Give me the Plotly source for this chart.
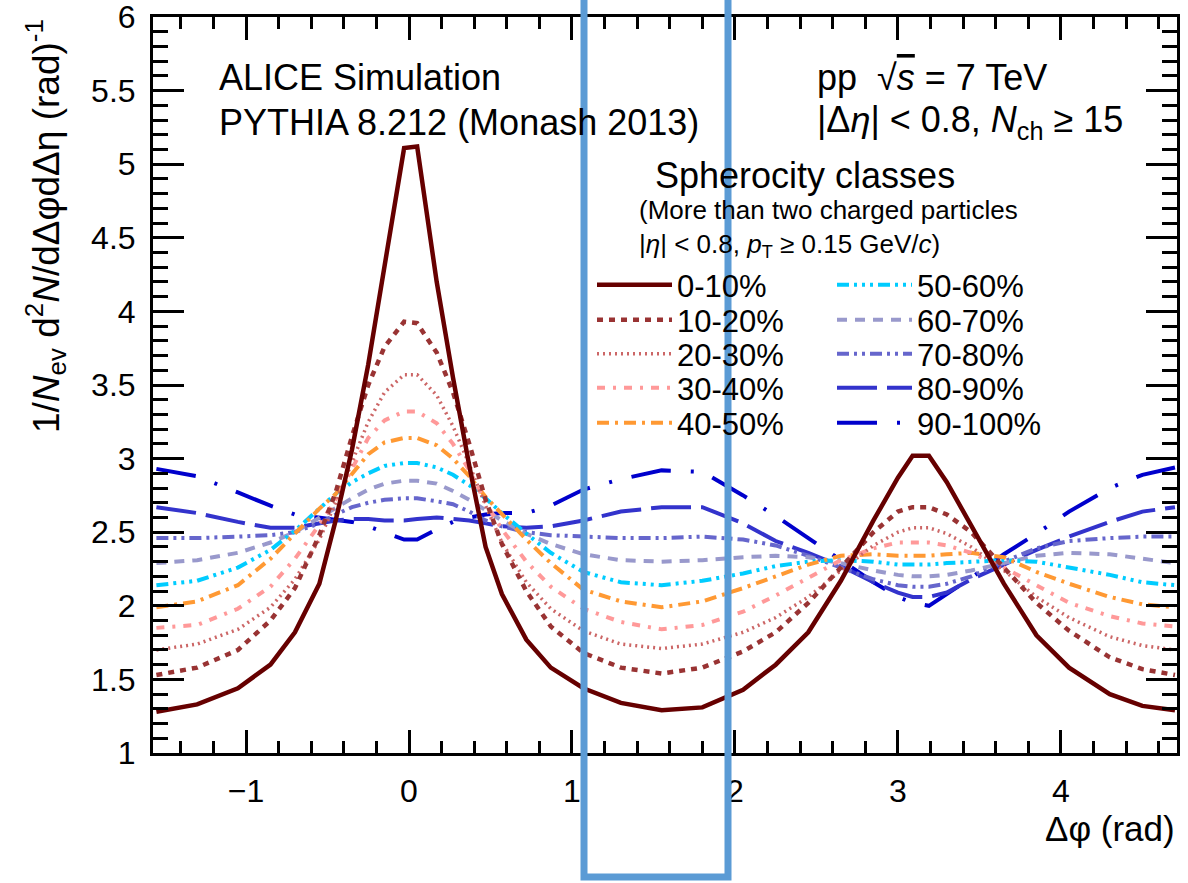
import math
import plotly.graph_objects as go

# Δφ sampling points (rad)
dphi = [-1.55, -1.3, -1.05, -0.85, -0.7, -0.55, -0.45, -0.35, -0.25, -0.15, -0.03, 0.05,
        0.17, 0.27, 0.37, 0.47, 0.57, 0.72, 0.87, 1.07, 1.3, 1.55, 1.8, 2.05, 2.25, 2.45,
        2.65, 2.85, 3.0, 3.09, 3.19, 3.3, 3.45, 3.65, 3.85, 4.05, 4.3, 4.5, 4.7]

# Per-trigger pair yields for each spherocity class
s_0_10 = [1.28, 1.33, 1.44, 1.60, 1.82, 2.15, 2.58, 3.06, 3.64, 4.30, 5.11, 5.12,
          4.20, 3.55, 2.95, 2.40, 2.08, 1.77, 1.58, 1.44, 1.34, 1.29, 1.31, 1.43, 1.60, 1.82,
          2.17, 2.58, 2.87, 3.02, 3.02, 2.84, 2.55, 2.15, 1.80, 1.58, 1.40, 1.32, 1.29]
s_10_20 = [1.53, 1.58, 1.70, 1.90, 2.12, 2.48, 2.77, 3.15, 3.50, 3.76, 3.93, 3.92,
           3.72, 3.45, 3.10, 2.72, 2.42, 2.10, 1.86, 1.68, 1.58, 1.54, 1.58, 1.69, 1.82, 2.02,
           2.26, 2.50, 2.64, 2.67, 2.67, 2.62, 2.50, 2.26, 2.02, 1.83, 1.65, 1.57, 1.53]
s_20_30 = [1.70, 1.74, 1.84, 1.99, 2.18, 2.45, 2.70, 2.98, 3.25, 3.45, 3.57, 3.57,
           3.43, 3.22, 2.96, 2.68, 2.43, 2.16, 1.98, 1.83, 1.74, 1.71, 1.74, 1.82, 1.92, 2.06,
           2.24, 2.41, 2.50, 2.53, 2.53, 2.49, 2.40, 2.24, 2.06, 1.92, 1.79, 1.73, 1.70]
s_30_40 = [1.85, 1.87, 1.98, 2.13, 2.32, 2.55, 2.72, 2.93, 3.14, 3.26, 3.32, 3.32,
           3.24, 3.10, 2.92, 2.70, 2.52, 2.30, 2.13, 1.98, 1.89, 1.84, 1.87, 1.96, 2.07, 2.19,
           2.31, 2.39, 2.43, 2.43, 2.43, 2.41, 2.36, 2.26, 2.14, 2.02, 1.93, 1.88, 1.86]
s_40_50 = [1.99, 2.03, 2.14, 2.32, 2.49, 2.66, 2.76, 2.90, 3.03, 3.11, 3.14, 3.14,
           3.09, 3.00, 2.88, 2.74, 2.62, 2.45, 2.29, 2.11, 2.03, 1.99, 2.03, 2.12, 2.20, 2.28,
           2.34, 2.35, 2.34, 2.34, 2.34, 2.35, 2.36, 2.33, 2.23, 2.15, 2.06, 2.01, 1.99]
s_50_60 = [2.14, 2.17, 2.26, 2.38, 2.51, 2.66, 2.76, 2.84, 2.90, 2.95, 2.97, 2.97,
           2.94, 2.89, 2.82, 2.73, 2.63, 2.49, 2.36, 2.23, 2.16, 2.14, 2.17, 2.22, 2.27, 2.30,
           2.31, 2.30, 2.28, 2.28, 2.28, 2.29, 2.30, 2.31, 2.30, 2.26, 2.21, 2.16, 2.14]
s_60_70 = [2.29, 2.31, 2.36, 2.43, 2.50, 2.60, 2.67, 2.73, 2.79, 2.83, 2.85, 2.85,
           2.83, 2.78, 2.72, 2.65, 2.58, 2.49, 2.42, 2.35, 2.31, 2.30, 2.31, 2.33, 2.34, 2.33,
           2.29, 2.24, 2.21, 2.20, 2.20, 2.21, 2.24, 2.29, 2.34, 2.36, 2.35, 2.32, 2.29]
s_70_80 = [2.46, 2.46, 2.47, 2.48, 2.50, 2.56, 2.62, 2.67, 2.70, 2.72, 2.73, 2.73,
           2.71, 2.69, 2.64, 2.58, 2.54, 2.50, 2.48, 2.47, 2.46, 2.46, 2.47, 2.45, 2.41, 2.34,
           2.26, 2.18, 2.14, 2.13, 2.13, 2.15, 2.20, 2.30, 2.39, 2.44, 2.46, 2.47, 2.47]
s_80_90 = [2.67, 2.63, 2.57, 2.53, 2.53, 2.56, 2.58, 2.59, 2.59, 2.58, 2.58, 2.59,
           2.60, 2.59, 2.58, 2.56, 2.54, 2.53, 2.54, 2.58, 2.64, 2.67, 2.67, 2.56, 2.44, 2.36,
           2.27, 2.16, 2.09, 2.06, 2.06, 2.09, 2.18, 2.28, 2.38, 2.47, 2.57, 2.64, 2.67]
s_90_100 = [2.93, 2.88, 2.77, 2.68, 2.62, 2.60, 2.59, 2.57, 2.54, 2.50, 2.45, 2.45,
            2.52, 2.57, 2.60, 2.62, 2.63, 2.63, 2.68, 2.79, 2.86, 2.92, 2.91, 2.75, 2.61, 2.46,
            2.31, 2.16, 2.06, 2.02, 2.00, 2.08, 2.19, 2.35, 2.49, 2.64, 2.80, 2.89, 2.94]

class_labels = ["0-10%", "10-20%", "20-30%", "30-40%", "40-50%",
                "50-60%", "60-70%", "70-80%", "80-90%", "90-100%"]
class_values = [s_0_10, s_10_20, s_20_30, s_30_40, s_40_50,
                s_50_60, s_60_70, s_70_80, s_80_90, s_90_100]

line_colors = ["#660000", "#993333", "#cc6666", "#ff9999", "#ff9933",
               "#00ccff", "#9999cc", "#6666cc", "#3333cc", "#0000cc"]
line_dashes = ["solid", "6px,6px", "2px,4px", "8px,8px,3px,8px", "12px,6px,3px,6px",
               "12px,5px,3px,5px,3px,5px,3px,5px", "10px,8px",
               "12px,5px,3px,5px,3px,5px", "40px,10px", "40px,20px,3px,20px"]
line_widths = [4.5, 4.5, 3.5, 4, 4, 4, 4, 4, 4, 4]

FONT = "Liberation Sans, Arial, Helvetica, sans-serif"

W, H = 1188, 883
ML, MR, MT, MB = 153, 11, 17, 130
PW, PH = W - ML - MR, H - MT - MB


def px(xpix):
    return (xpix - ML) / PW


def py(ypix):
    return (H - MB - ypix) / PH


# legend layout: two columns of five rows, one legend box per entry
legend_cols = [592, 832]
legend_rows = [285, 320, 354, 388, 423]

fig = go.Figure()
# highest classes first so the jet-like classes sit on top
for i in reversed(range(len(class_labels))):
    fig.add_trace(go.Scatter(
        x=dphi, y=class_values[i], mode="lines", name=class_labels[i],
        line=dict(color=line_colors[i], dash=line_dashes[i], width=line_widths[i]),
        legend="legend" if i == 0 else f"legend{i + 1}",
        hoverinfo="skip",
    ))

legends = {}
for i in range(len(class_labels)):
    key = "legend" if i == 0 else f"legend{i + 1}"
    legends[key] = dict(
        x=px(legend_cols[i // 5]), y=py(legend_rows[i % 5]),
        xanchor="left", yanchor="middle",
        font=dict(family=FONT, size=31, color="black"),
        bgcolor="rgba(0,0,0,0)", borderwidth=0, itemwidth=75,
    )

axis_common = dict(
    showline=True, linecolor="black", linewidth=3, mirror="ticks",
    ticks="inside", tickcolor="black", tickwidth=2.5,
    showgrid=False, zeroline=False, ticklabeloverflow="allow", automargin=False,
    tickfont=dict(family=FONT, size=32, color="black"),
)

fig.update_xaxes(
    range=[-math.pi / 2, 3 * math.pi / 2], tick0=0, dtick=1, ticklen=23,
    minor=dict(ticks="inside", dtick=0.2, tick0=0, ticklen=12, tickwidth=2.5, tickcolor="black"),
    ticklabelstandoff=8,
    **axis_common,
)
fig.update_yaxes(
    range=[1, 6], tick0=1, dtick=0.5, ticklen=31,
    minor=dict(ticks="inside", dtick=0.1, tick0=1, ticklen=15, tickwidth=2.5, tickcolor="black"),
    ticklabelstandoff=8,
    **axis_common,
)

annotations = [
    dict(text="ALICE Simulation", x=px(217), y=py(78), xanchor="left", yanchor="middle",
         font=dict(size=36)),
    dict(text="PYTHIA 8.212 (Monash 2013)", x=px(217), y=py(122), xanchor="left",
         yanchor="middle", font=dict(size=36)),
    dict(text="pp  √<span style='text-decoration:overline'><i>s</i></span> = 7 TeV",
         x=px(815), y=py(78), xanchor="left", yanchor="middle", font=dict(size=36)),
    dict(text="|Δ<i>η</i>| < 0.8, <i>N</i><sub>ch</sub> ≥ 15",
         x=px(815), y=py(122), xanchor="left", yanchor="middle", font=dict(size=36)),
    dict(text="Spherocity classes", x=px(653), y=py(175), xanchor="left", yanchor="middle",
         font=dict(size=36)),
    dict(text="(More than two charged particles<br>"
              "|<i>η</i>| < 0.8, <i>p</i><sub>T</sub> ≥ 0.15 GeV/<i>c</i>)",
         x=px(637), y=py(229), xanchor="left", yanchor="middle", align="left",
         font=dict(size=26)),
    dict(text="Δφ (rad)", x=1.0, y=py(829), xanchor="right", yanchor="middle",
         font=dict(size=35)),
    dict(text="1/<i>N</i><sub>ev</sub> d<sup>2</sup><i>N</i>/dΔφdΔη (rad)<sup>-1</sup>",
         x=px(45), y=1.0, xanchor="center", yanchor="top", textangle=-90,
         font=dict(size=37)),
]
for a in annotations:
    a.update(xref="paper", yref="paper", showarrow=False)
    a["font"].update(family=FONT, color="black")

fig.update_layout(
    width=W, height=H,
    margin=dict(l=ML, r=MR, t=MT, b=MB, pad=0, autoexpand=False),
    paper_bgcolor="white", plot_bgcolor="white",
    font=dict(family=FONT, color="black"),
    showlegend=True,
    annotations=annotations,
    shapes=[dict(type="rect", xref="paper", yref="paper",
                 x0=px(584), x1=px(728), y0=py(877), y1=py(-10),
                 line=dict(color="#5b9bd5", width=7), fillcolor="rgba(0,0,0,0)",
                 layer="above")],
    **legends,
)

fig.write_html("out.html")
